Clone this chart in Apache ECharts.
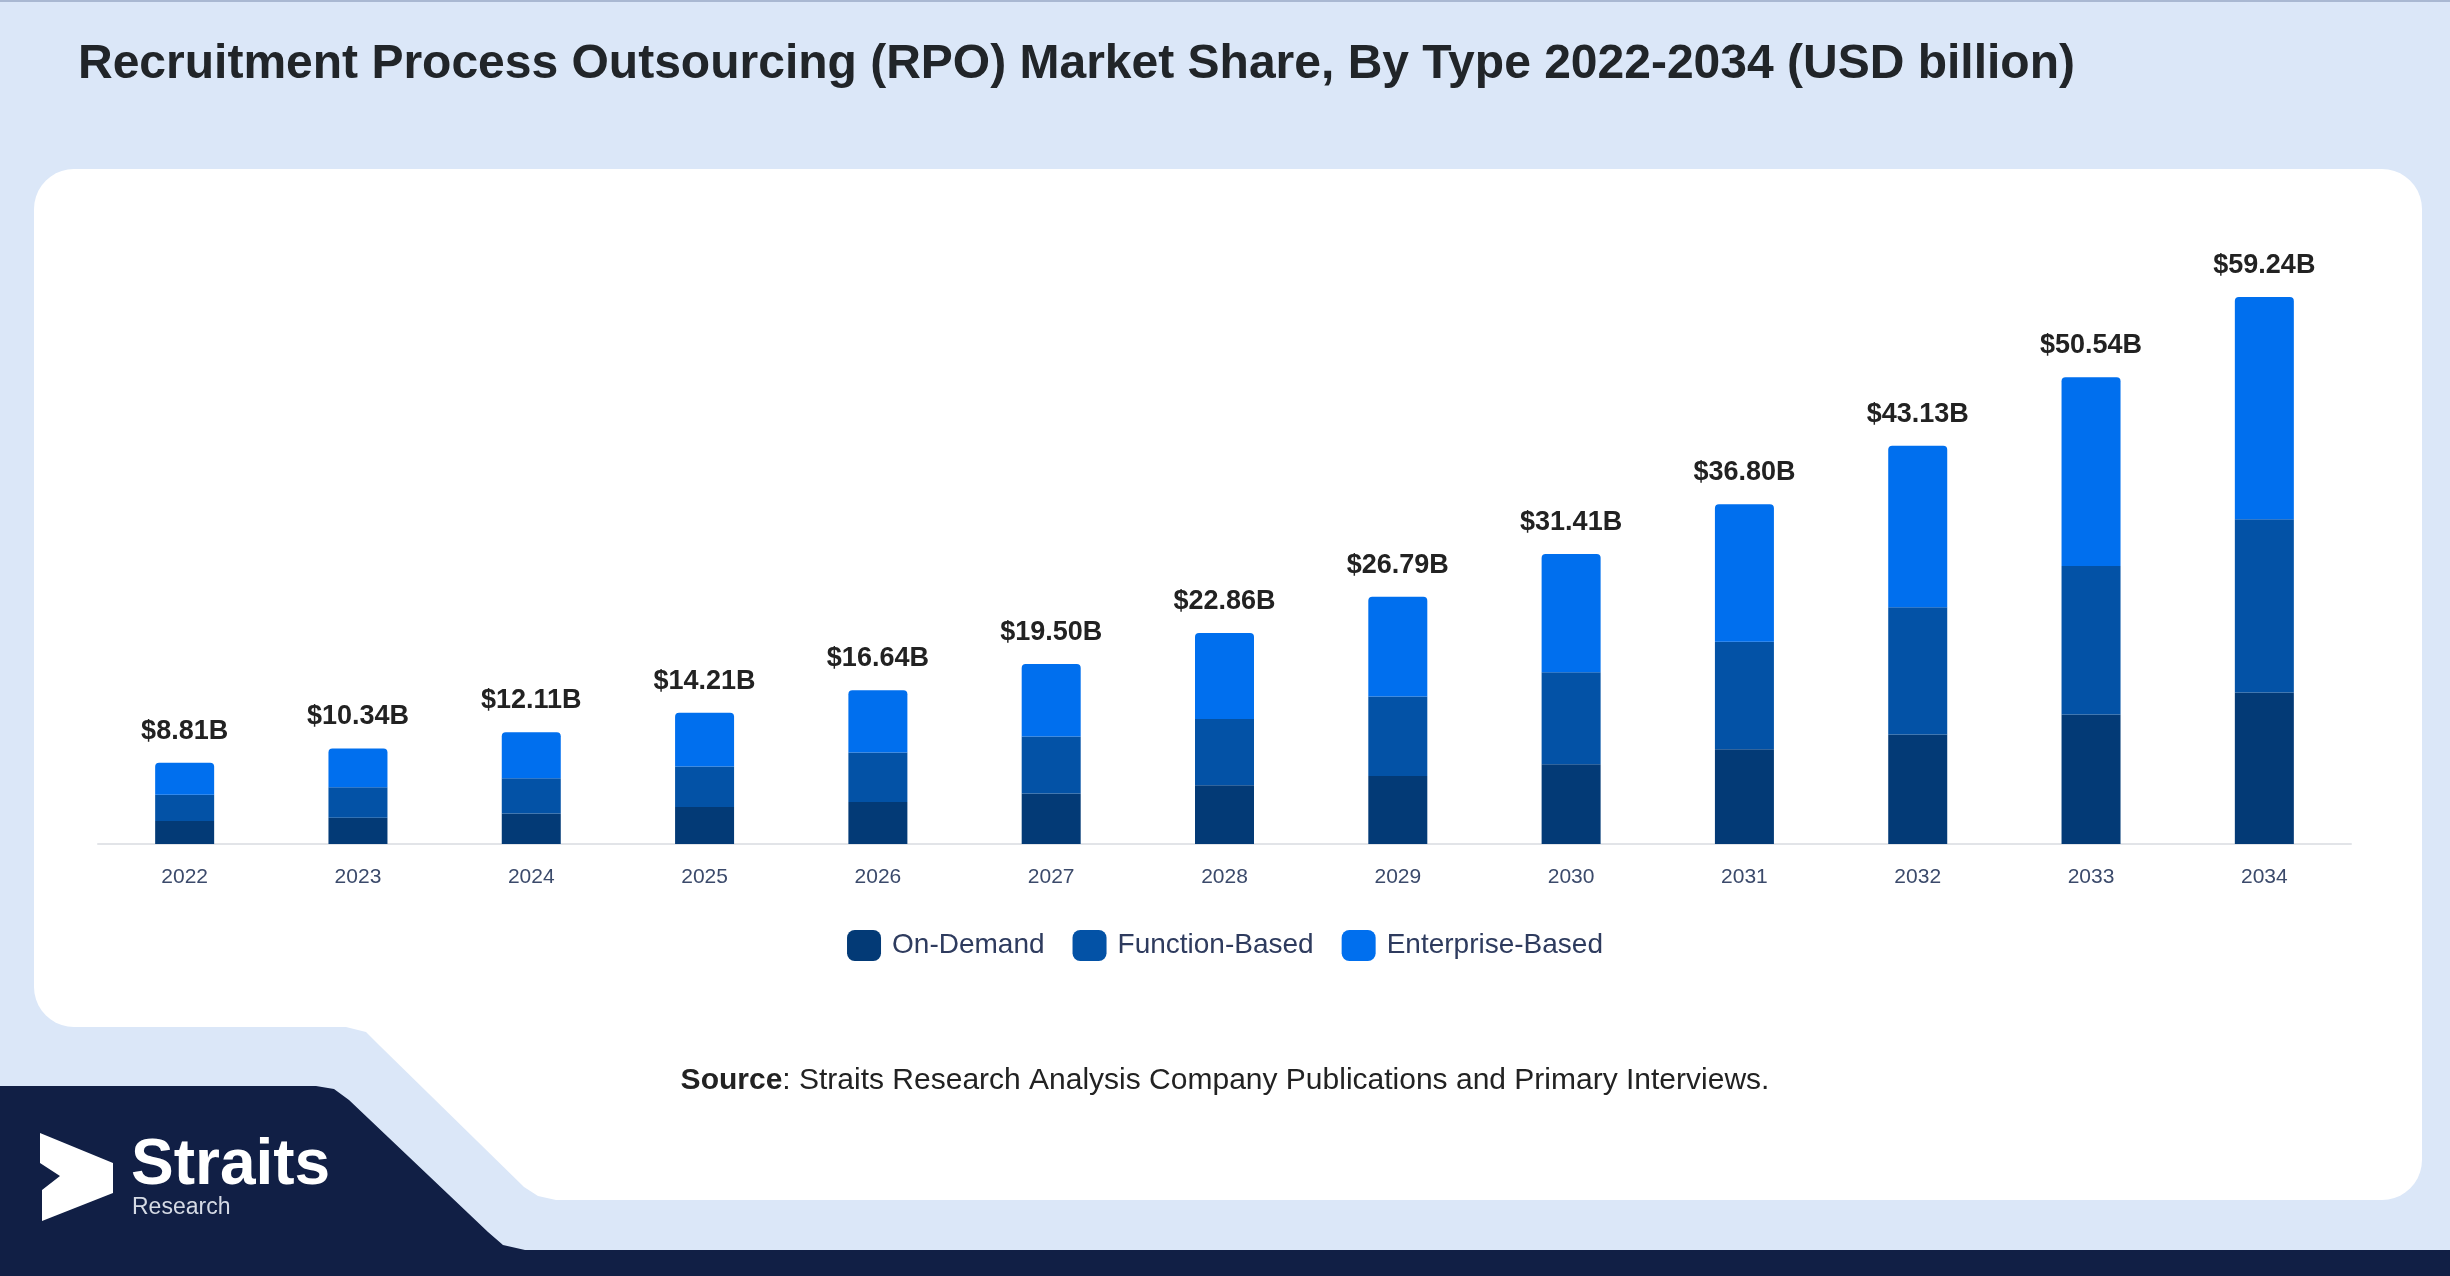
<!DOCTYPE html>
<html>
<head>
<meta charset="utf-8">
<script src="https://cdn.jsdelivr.net/npm/echarts@6/dist/echarts.min.js"></script>
<style>
html,body{margin:0;padding:0;background:#DBE7F8;}
#c{width:2450px;height:1276px;}
</style>
</head>
<body>
<div id="c"></div>
<script>
var years = ['2022','2023','2024','2025','2026','2027','2028','2029','2030','2031','2032','2033','2034'];
var onDemand = [2.49, 2.85, 3.31, 4.00, 4.54, 5.46, 6.35, 7.37, 8.63, 10.25, 11.85, 14.03, 16.40];
var functionBased = [2.85, 3.29, 3.82, 4.40, 5.38, 6.18, 7.18, 8.60, 9.98, 11.65, 13.80, 16.08, 18.77];
var enterpriseBased = [3.47, 4.20, 4.98, 5.81, 6.72, 7.86, 9.33, 10.82, 12.80, 14.90, 17.48, 20.43, 24.07];
var totals = [8.81, 10.34, 12.11, 14.21, 16.64, 19.50, 22.86, 26.79, 31.41, 36.80, 43.13, 50.54, 59.24];
var seriesNames = ['On-Demand', 'Function-Based', 'Enterprise-Based'];
var colors = ['#033A76', '#0352A6', '#006FEE'];

var chart = echarts.init(document.getElementById('c'));
var font = '"Liberation Sans", Arial, sans-serif';

function arc(cx, cy, r, a0, a1) {
  var pts = [], n = 10;
  for (var i = 0; i <= n; i++) {
    var a = (a0 + (a1 - a0) * i / n) * Math.PI / 180;
    pts.push([cx + r * Math.cos(a), cy + r * Math.sin(a)]);
  }
  return pts;
}
var cardPts = [].concat(
  arc(74, 209, 40, 180, 270),
  arc(2382, 209, 40, 270, 360),
  arc(2382, 1160, 40, 0, 90),
  [[556, 1200], [538, 1196], [524, 1187], [380, 1046], [366, 1032], [346, 1027]],
  arc(74, 987, 40, 90, 180)
);
var darkPts = [[0, 1086], [316, 1086], [334, 1089], [349, 1100], [488, 1232], [503, 1245], [525, 1250], [2450, 1250], [2450, 1276], [0, 1276]];

var option = {
  backgroundColor: '#DBE7F8',
  textStyle: { fontFamily: font },
  title: {
    text: 'Recruitment Process Outsourcing (RPO) Market Share, By Type 2022-2034 (USD billion)',
    left: 73, top: 36,
    textStyle: { fontFamily: font, fontSize: 48, fontWeight: 'bold', color: '#212529' }
  },
  graphic: [
    { type: 'rect', z: 0, silent: true, shape: { x: 0, y: 0, width: 2450, height: 2 }, style: { fill: '#A9B8D2' } },
    { type: 'polygon', z: 0, silent: true, shape: { points: cardPts }, style: { fill: '#FFFFFF' } },
    { type: 'polygon', z: 0, silent: true, shape: { points: darkPts }, style: { fill: '#111F45' } },
    { type: 'polygon', z: 1, silent: true,
      shape: { points: [[40,1133],[113,1163],[113,1193],[42,1221],[42,1190],[60,1176],[40,1163]] },
      style: { fill: '#FFFFFF' } },
    { type: 'text', z: 1, silent: true,
      style: { text: 'Straits', x: 131, y: 1166, verticalAlign: 'middle', fontFamily: font, fontSize: 64, fontWeight: 'bold', fill: '#FFFFFF' } },
    { type: 'text', z: 1, silent: true,
      style: { text: 'Research', x: 132, y: 1208, verticalAlign: 'middle', fontFamily: font, fontSize: 23, fill: '#D5DAE4' } },
    { type: 'text', z: 1, silent: true,
      style: {
        text: '{b|Source}: Straits Research Analysis Company Publications and Primary Interviews.',
        x: 1225, y: 1081, align: 'center', verticalAlign: 'middle',
        fontFamily: font, fontSize: 30, fill: '#222222',
        rich: { b: { fontFamily: font, fontSize: 30, fontWeight: 'bold', fill: '#222222' } }
      } }
  ],
  legend: {
    data: seriesNames,
    left: 'center', top: 925,
    icon: 'roundRect', itemWidth: 34, itemHeight: 31, itemGap: 28,
    textStyle: { fontFamily: font, fontSize: 28, color: '#2E3B5E', padding: [0, 0, 0, 6] }
  },
  grid: { left: 98, width: 2253, top: 290, height: 554, containLabel: false },
  xAxis: {
    type: 'category', data: years,
    axisLine: { lineStyle: { color: '#E2E4E8', width: 2 } },
    axisTick: { show: false },
    axisLabel: { color: '#3B4A6B', fontSize: 21, fontFamily: font, margin: 23 }
  },
  yAxis: { type: 'value', min: 0, max: 60, show: false, splitLine: { show: false } },
  series: [
    { name: seriesNames[0], type: 'bar', stack: 'total', barWidth: 59, data: onDemand, itemStyle: { color: colors[0] } },
    { name: seriesNames[1], type: 'bar', stack: 'total', barWidth: 59, data: functionBased, itemStyle: { color: colors[1] } },
    { name: seriesNames[2], type: 'bar', stack: 'total', barWidth: 59, data: enterpriseBased,
      itemStyle: { color: colors[2], borderRadius: [4, 4, 0, 0] },
      label: { show: true, position: 'top', distance: 18, fontFamily: font, fontSize: 27, fontWeight: 'bold', color: '#222222',
        formatter: function (p) { return '$' + totals[p.dataIndex].toFixed(2) + 'B'; } } }
  ]
};
chart.setOption(option);
</script>
</body>
</html>
